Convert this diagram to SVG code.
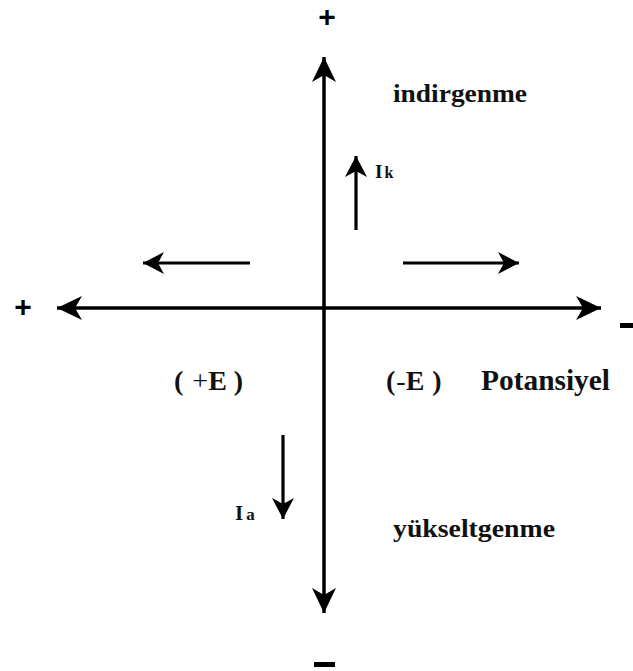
<svg xmlns="http://www.w3.org/2000/svg" width="633" height="671" viewBox="0 0 633 671">
<style>
.ax{stroke:#000;stroke-width:3.5;fill:none}
.sm{stroke:#000;stroke-width:3.2;fill:none}
.t{font-family:"Liberation Serif","Times New Roman",serif;font-weight:bold;fill:#111}
.s{font-family:"Liberation Sans",Arial,sans-serif;font-weight:bold;fill:#000}
</style>
<defs>
<marker id="big" markerUnits="userSpaceOnUse" viewBox="-26 -13 28 26" refX="0" refY="0" markerWidth="28" markerHeight="26" orient="auto-start-reverse">
<path d="M0,0 L-25,-12 L-18,0 L-25,12 Z" fill="#000"/>
</marker>
<marker id="small" markerUnits="userSpaceOnUse" viewBox="-23 -12 25 24" refX="0" refY="0" markerWidth="25" markerHeight="24" orient="auto">
<path d="M0,0 L-21,-11 L-15,0 L-21,11 Z" fill="#000"/>
</marker>
</defs>
<rect width="633" height="671" fill="#fff"/>
<g id="connectors">
<line class="ax" x1="324" y1="613" x2="324" y2="57" marker-start="url(#big)" marker-end="url(#big)"/>
<line class="ax" x1="601" y1="308" x2="57" y2="308" marker-start="url(#big)" marker-end="url(#big)"/>
<line class="sm" x1="250" y1="263" x2="143" y2="263" marker-end="url(#small)"/>
<line class="sm" x1="403" y1="263" x2="519" y2="263" marker-end="url(#small)"/>
<line class="sm" x1="356" y1="230" x2="356" y2="156" marker-end="url(#small)"/>
<line class="sm" x1="283" y1="435" x2="283" y2="519" marker-end="url(#small)"/>
</g>
<g id="signs">
<text class="s" x="327" y="27" font-size="30" text-anchor="middle">+</text>
<text class="s" x="23" y="317" font-size="30" text-anchor="middle">+</text>
<rect x="620" y="323" width="16" height="5" fill="#000"/>
<rect x="314" y="662" width="21" height="5" fill="#000"/>
</g>
<g id="indirgenme"><text class="t" x="393" y="102" font-size="26" textLength="134" lengthAdjust="spacingAndGlyphs">indirgenme</text></g>
<g id="yukseltgenme"><text class="t" x="393" y="537" font-size="26" textLength="162" lengthAdjust="spacingAndGlyphs">yükseltgenme</text></g>
<g id="potansiyel"><text class="t" x="481" y="390" font-size="29" textLength="129" lengthAdjust="spacingAndGlyphs">Potansiyel</text></g>
<g id="plusE"><text class="t" x="174" y="390" font-size="28">(<tspan font-weight="normal" dx="9">+</tspan>E<tspan dx="7">)</tspan></text></g>
<g id="minusE"><text class="t" x="386" y="390" font-size="28">(<tspan font-weight="normal" dx="1">-</tspan>E<tspan dx="8">)</tspan></text></g>
<g id="Ik"><text class="t" x="375" y="178" font-size="19" font-weight="normal">I<tspan font-weight="bold" font-size="16" dx="2">k</tspan></text></g>
<g id="Ia"><text class="t" x="235" y="520" font-size="21" font-weight="normal">I<tspan font-weight="bold" font-size="17" dx="3">a</tspan></text></g>
</svg>
